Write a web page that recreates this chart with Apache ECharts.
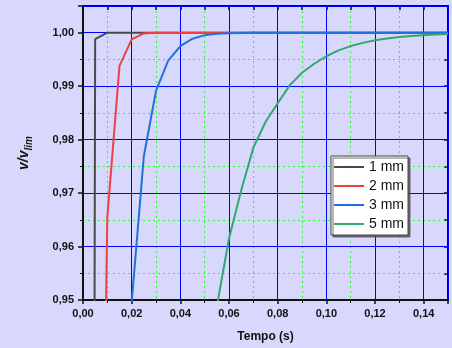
<!DOCTYPE html>
<html>
<head>
<meta charset="utf-8">
<script src="https://cdn.jsdelivr.net/npm/echarts@6/dist/echarts.min.js"></script>
<style>
  html, body { margin: 0; padding: 0; background: #d8d8fc; }
  #chart { width: 452px; height: 348px; }
</style>
</head>
<body>
<div id="chart"></div>
<script>
// time samples (s)
const tempo = [0, 0.005, 0.01, 0.015, 0.02, 0.025, 0.03, 0.035, 0.04, 0.045, 0.05,
  0.055, 0.06, 0.065, 0.07, 0.075, 0.08, 0.085, 0.09, 0.095, 0.10,
  0.105, 0.11, 0.115, 0.12, 0.125, 0.13, 0.135, 0.14, 0.145, 0.15];

// v / v_lim per diameter
const d1mm = [0, 0.9988, 1, 1, 1, 1, 1, 1, 1, 1, 1,
  1, 1, 1, 1, 1, 1, 1, 1, 1, 1,
  1, 1, 1, 1, 1, 1, 1, 1, 1, 1];
const d2mm = [0, 0.81, 0.9655, 0.9938, 0.99875, 0.99987, 0.99998, 1, 1, 1, 1,
  1, 1, 1, 1, 1, 1, 1, 1, 1, 1,
  1, 1, 1, 1, 1, 1, 1, 1, 1, 1];
const d3mm = [0, 0.35, 0.65, 0.86, 0.9495, 0.9769, 0.9891, 0.9948, 0.9975, 0.99888, 0.99955,
  0.9998, 0.99992, 0.99997, 1, 1, 1, 1, 1, 1, 1,
  1, 1, 1, 1, 1, 1, 1, 1, 1, 1];
const d5mm = [0, 0.16, 0.31, 0.44, 0.56, 0.66, 0.74, 0.81, 0.86, 0.90, 0.931,
  0.9488, 0.9615, 0.9705, 0.9785, 0.9833, 0.9868, 0.9902, 0.9925, 0.9942, 0.9956,
  0.9967, 0.9975, 0.9981, 0.9986, 0.9989, 0.9992, 0.9994, 0.99955, 0.99967, 0.99975];

const seriesNames = ['1 mm', '2 mm', '3 mm', '5 mm'];
const seriesColors = ['#4a4a4a', '#f04040', '#2070e0', '#30a870'];
const seriesValues = [d1mm, d2mm, d3mm, d5mm];

const fmt = v => v.toFixed(2).replace('.', ',');
const labelStyle = { fontFamily: 'Liberation Sans, Arial', fontWeight: 'bold', fontSize: 11, color: '#111' };
// dotted green minor grid ([2,3] stays visible after anti-aliasing)
const minorGrid = { show: true, lineStyle: { color: '#22ff22', width: 1, type: [2, 3] } };

const chart = echarts.init(document.getElementById('chart'));

const option = {
  backgroundColor: '#d8d8fc',
  animation: false,
  grid: { left: 83, right: 4, top: 6, bottom: 47 },
  legend: {
    data: seriesNames,
    orient: 'vertical',
    left: 331,
    top: 156,
    width: 78,
    itemWidth: 30,
    itemHeight: 3,
    itemGap: 5,
    padding: [4, 4, 4, 2],
    backgroundColor: '#ffffff',
    borderColor: '#444',
    borderWidth: 1,
    borderRadius: 0,
    shadowColor: 'rgba(80,80,80,0.8)',
    shadowOffsetX: 2,
    shadowOffsetY: 2,
    textStyle: { fontFamily: 'Liberation Sans, Arial', fontSize: 14, color: '#111', padding: [0, 0, 0, 0] }
  },
  xAxis: [
    {
      type: 'value',
      position: 'bottom',
      min: 0, max: 0.15, interval: 0.02,
      z: 2,
      name: 'Tempo (s)',
      nameLocation: 'middle',
      nameGap: 31,
      nameTextStyle: { fontFamily: 'Liberation Sans, Arial', fontWeight: 'bold', fontSize: 12, color: '#111' },
      axisLine: { lineStyle: { color: '#111', width: 2 } },
      axisTick: { inside: false, length: 4, lineStyle: { color: '#111', width: 1.5 } },
      minorTick: { show: true, splitNumber: 2, length: 3, lineStyle: { color: '#111' } },
      axisLabel: Object.assign({ margin: 8, showMaxLabel: false, formatter: fmt }, labelStyle),
      splitLine: { show: true, lineStyle: { color: '#0000ff', width: 1 } }
    },
    {
      type: 'value',
      position: 'top',
      min: 0, max: 0.15, interval: 0.01,
      z: 1,
      axisLine: { show: true, onZero: false, lineStyle: { color: '#111', width: 2 } },
      axisTick: { show: true, inside: true, length: 4, lineStyle: { color: '#111', width: 1.5 } },
      axisLabel: { show: false },
      splitLine: minorGrid
    }
  ],
  yAxis: [
    {
      type: 'value',
      position: 'left',
      min: 0.95, max: 1.005, interval: 0.01,
      z: 2,
      name: '{a|v/v}{b|lim}',
      nameLocation: 'middle',
      nameGap: 52,
      nameTextStyle: {
        rich: {
          a: { fontFamily: 'Liberation Sans, Arial', fontWeight: 'bold', fontStyle: 'italic', fontSize: 14, color: '#111', lineHeight: 18, verticalAlign: 'bottom' },
          b: { fontFamily: 'Liberation Sans, Arial', fontWeight: 'bold', fontStyle: 'italic', fontSize: 10, color: '#111', lineHeight: 18, verticalAlign: 'bottom', padding: [0, 0, -3, 0] }
        }
      },
      axisLine: { lineStyle: { color: '#111', width: 2 } },
      axisTick: { inside: false, length: 5, lineStyle: { color: '#111', width: 1.5 } },
      minorTick: { show: true, splitNumber: 2, length: 3, lineStyle: { color: '#111' } },
      minorSplitLine: minorGrid,
      axisLabel: Object.assign({ margin: 9, showMaxLabel: false, formatter: fmt }, labelStyle),
      splitLine: { show: true, lineStyle: { color: '#0000ff', width: 1 } }
    },
    {
      type: 'value',
      position: 'right',
      min: 0.95, max: 1.005, interval: 0.005,
      z: 1,
      axisLine: { show: true, onZero: false, lineStyle: { color: '#111', width: 2 } },
      axisTick: { show: true, inside: true, length: 4, lineStyle: { color: '#111', width: 1.5 } },
      axisLabel: { show: false },
      splitLine: { show: false }
    }
  ],
  series: seriesNames.map((name, i) => ({
    name: name,
    type: 'line',
    xAxisIndex: 0,
    yAxisIndex: 0,
    symbol: 'none',
    clip: true,
    z: 3 + i,
    data: tempo.map((t, k) => [t, seriesValues[i][k]]),
    lineStyle: { color: seriesColors[i], width: 2 },
    itemStyle: { color: seriesColors[i] }
  }))
};

chart.setOption(option);
</script>
</body>
</html>
